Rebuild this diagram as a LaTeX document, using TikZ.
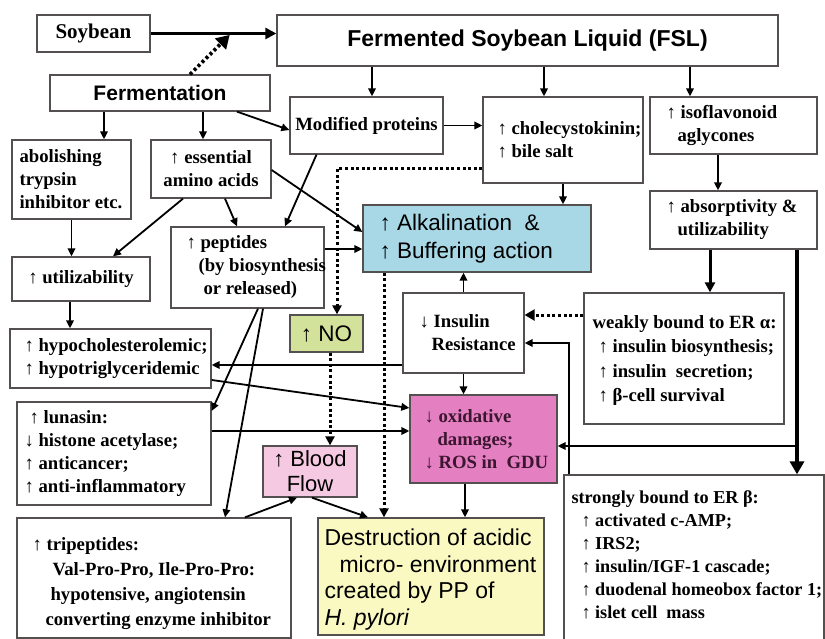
\documentclass[tikz,border=0pt]{standalone}
\usepackage{fontspec}
\setmainfont{Liberation Serif}
\newfontfamily\arialf{Liberation Sans}
\usetikzlibrary{arrows.meta,calc}
\definecolor{bordc}{HTML}{555050}
\definecolor{alkc}{HTML}{A8D8E6}
\definecolor{noc}{HTML}{D3E29A}
\definecolor{oxic}{HTML}{E47FC1}
\definecolor{oxit}{HTML}{3C1530}
\definecolor{bloodc}{HTML}{F6C9E2}
\definecolor{destc}{HTML}{FBF9C2}
\newcommand\mytf{\bfseries\fontsize{18.7}{23}\selectfont}
\begin{document}
\begin{tikzpicture}[x=1pt,y=-1pt,
  box/.style={draw=bordc,line width=1.3pt,fill=white,inner sep=0pt,font=\mytf,align=center},
  tx/.style={align=left,inner sep=0pt,font=\mytf,anchor=west},
  arr/.style={line width=1.8pt,-{Triangle[length=8pt,width=7.5pt]}},
  thk/.style={line width=3.4pt,-{Triangle[length=11pt,width=11pt]}},
  dotl/.style={line width=3pt,dash pattern=on 3pt off 2.6pt,-{Triangle[length=9pt,width=9pt]}}]
\fill[white] (0,0) rectangle (825,639);
\useasboundingbox (0,0) rectangle (825,639);
% boxes
\node[box,minimum width=113pt,minimum height=37pt,font=\bfseries\fontsize{21}{25}\selectfont] (soy) at (93.5,33.5) {Soybean};
\node[box,minimum width=501pt,minimum height=51pt,font=\arialf\bfseries\fontsize{23}{27}\selectfont] (fsl) at (527.5,40.5) {Fermented Soybean Liquid (FSL)};
\node[box,minimum width=220pt,minimum height=36pt,font=\arialf\bfseries\fontsize{21}{25}\selectfont] (ferm) at (160,93) {Fermentation};
\node[box,minimum width=153pt,minimum height=57pt] (mod) at (366.5,125.5) {Modified proteins};
\node[box,minimum width=160pt,minimum height=86pt] (chole) at (563,140) {};
\node[tx] at ([xshift=15pt]chole.west) {↑ cholecystokinin;\\↑ bile salt};
\node[box,minimum width=167pt,minimum height=57pt] (iso) at (733.5,125.5) {};
\node[tx] at ([xshift=17pt]iso.west) {↑ isoflavonoid\\\hspace*{11pt}aglycones};
\node[box,minimum width=167pt,minimum height=58pt] (absb) at (733.5,220) {};
\node[tx] at ([xshift=17pt]absb.west) {↑ absorptivity \&\\\hspace*{11pt}utilizability};
\node[box,minimum width=119pt,minimum height=79pt] (abol) at (71.5,179.5) {};
\node[tx] at ([xshift=8pt]abol.west) {abolishing\\trypsin\\inhibitor etc.};
\node[box,minimum width=120pt,minimum height=58pt] (ess) at (211,169) {↑ essential\\amino acids};
\node[box,minimum width=138pt,minimum height=44pt] (util) at (81,279) {↑ utilizability};
\node[box,minimum width=153pt,minimum height=81pt] (pep) at (247.5,267.5) {};
\node[tx] at ([xshift=16pt]pep.west) {↑ peptides\\\hspace*{12pt}(by biosynthesis\\\hspace*{17pt}or released)};
\node[box,fill=alkc,minimum width=228pt,minimum height=67pt] (alk) at (477,238.5) {};
\node[tx,font=\arialf\fontsize{22.5}{28}\selectfont] at ([xshift=17pt]alk.west) {↑ Alkalination \ \&\\↑ Buffering action};
\node[box,fill=noc,minimum width=73pt,minimum height=37pt,font=\arialf\fontsize{22.5}{25}\selectfont] (no) at (326.5,333.5) {↑ NO};
\node[box,minimum width=121pt,minimum height=80pt] (ir) at (463.5,333) {};
\node[tx] at ([xshift=17pt]ir.west) {↓ Insulin\\\hspace*{12pt}Resistance};
\node[box,minimum width=200pt,minimum height=131pt] (weak) at (684,358.5) {};
\node[tx,font=\bfseries\fontsize{18.7}{24.5}\selectfont] at ([xshift=9pt,yshift=-2pt]weak.west) {weakly bound to ER α:\\\hspace*{6pt}↑ insulin biosynthesis;\\\hspace*{6pt}↑ insulin \ secretion;\\\hspace*{6pt}↑ β-cell survival};
\node[box,minimum width=201pt,minimum height=59pt] (hypo) at (110.5,358.5) {};
\node[tx] at ([xshift=15pt]hypo.west) {↑ hypocholesterolemic;\\↑ hypotriglyceridemic};
\node[box,minimum width=194pt,minimum height=103pt] (luna) at (114,453.5) {};
\node[tx] at ([xshift=8pt]luna.west) {\hspace*{5pt}↑ lunasin:\\↓ histone acetylase;\\↑ anticancer;\\↑ anti-inflammatory};
\node[box,fill=bloodc,minimum width=94pt,minimum height=51pt,font=\arialf\fontsize{22}{25}\selectfont] (blood) at (310,471.5) {↑ Blood\\Flow};
\node[box,fill=oxic,minimum width=147pt,minimum height=88pt] (oxi) at (483.5,439) {};
\node[tx,text=oxit] at ([xshift=15pt]oxi.west) {↓ oxidative\\\hspace*{13pt}damages;\\↓ ROS in \ GDU};
\node[box,minimum width=274pt,minimum height=120pt] (tri) at (154,578) {};
\node[tx,font=\bfseries\fontsize{18.7}{25}\selectfont] at ([xshift=16pt,yshift=-6pt]tri.west) {↑ tripeptides:\\\hspace*{20pt}Val-Pro-Pro, Ile-Pro-Pro:\\\hspace*{18pt}hypotensive, angiotensin\\\hspace*{13pt}converting enzyme inhibitor};
\node[box,fill=destc,minimum width=226pt,minimum height=117pt] (dest) at (431,576.5) {};
\node[tx,font=\arialf\fontsize{23}{26.5}\selectfont] at ([xshift=7pt,yshift=-3pt]dest.west) {Destruction of acidic\\\hspace*{15pt}micro- environment\\created by PP of\\\textit{H. pylori}};
\node[box,minimum width=260pt,minimum height=170pt] (strong) at (694,560) {};
\node[tx,anchor=north west,font=\bfseries\fontsize{18.2}{23}\selectfont] at ([xshift=8pt,yshift=-16pt]strong.north west) {strongly bound to ER β:\\\hspace*{10pt}↑ activated c-AMP;\\\hspace*{10pt}↑ IRS2;\\\hspace*{10pt}↑ insulin/IGF-1 cascade;\\\hspace*{10pt}↑ duodenal homeobox factor 1;\\\hspace*{10pt}↑ islet cell \ mass};
% connectors
\draw[thk] (soy.east) -- (soy.east -| fsl.west);
\coordinate (sf) at ($(soy.east)!0.64!(soy.east -| fsl.west)$);
\draw[dotl,line width=3.6pt,-{Triangle[length=13pt,width=15pt]},shorten >=2pt] ([xshift=30pt]ferm.north) -- (sf);
\coordinate (m1) at ([xshift=5.5pt]mod.north);
\draw[arr] (fsl.south -| m1) -- (m1);
\coordinate (c1) at ([xshift=-19pt]chole.north);
\draw[arr] (fsl.south -| c1) -- (c1);
\coordinate (i1) at ([xshift=-43.5pt]iso.north);
\draw[arr] (fsl.south -| i1) -- (i1);
\coordinate (f1) at ([xshift=32.5pt]abol.north);
\draw[arr] (ferm.south -| f1) -- (f1);
\coordinate (f2) at ([xshift=-8pt]ess.north);
\draw[arr] (ferm.south -| f2) -- (f2);
\draw[arr] ([xshift=77pt]ferm.south) -- ([yshift=-4.5pt]mod.west);
\draw[arr] (mod.east) -- (mod.east -| chole.west);
\coordinate (i2) at ([xshift=-15.5pt]absb.north);
\draw[arr,line width=2.4pt] (iso.south -| i2) -- (i2);
\draw[arr] (chole.south) -- (chole.south |- alk.north);
\draw[arr] ([xshift=-28pt]ess.south) -- ([xshift=32pt]util.north);
\draw[arr] ([xshift=14pt]ess.south) -- ([xshift=-10.5pt]pep.north);
\draw[arr] ([yshift=-1pt]ess.east) -- ([yshift=6.5pt]alk.west);
\draw[arr] ([xshift=-50pt]mod.south) -- ([xshift=37.5pt]pep.north);
\coordinate (p1) at ([yshift=18.5pt]pep.east);
\draw[arr] (p1) -- (p1 -| alk.west);
\draw[arr] (abol.south) -- (abol.south |- util.north);
\coordinate (u1) at ([xshift=-11pt]util.south);
\draw[arr] (u1) -- (u1 |- hypo.north);
\coordinate (n1) at ([xshift=10.5pt]no.north);
\draw[dotl] ([yshift=-29pt]chole.west) -| (n1);
\coordinate (n2) at ([xshift=3.5pt]no.south);
\draw[dotl] (n2) -- (n2 |- blood.north);
\coordinate (a1) at ([xshift=-93pt]alk.south);
\draw[dotl] (a1) -- (a1 |- dest.north);
\coordinate (w1) at ([yshift=43.5pt]weak.west);
\draw[dotl,-{Triangle[length=10pt,width=11pt]}] (w1) -- (w1 -| ir.east);
\draw[arr] (ir.north) -- (ir.north |- alk.south);
\draw[arr] (ir.south) -- (ir.south |- oxi.north);
\coordinate (b1) at ([xshift=-23.5pt]absb.south);
\draw[thk,line width=3pt,-{Triangle[length=10pt,width=10pt]}] (b1) -- (b1 |- weak.north);
\coordinate (b2) at ([xshift=63.5pt]absb.south);
\draw[thk,line width=4pt,-{Triangle[length=13pt,width=14pt]}] (b2) -- (b2 |- strong.north);
\coordinate (o1) at ([yshift=-7pt]oxi.east);
\draw[arr] (b2 |- o1) -- (o1);
\coordinate (ir1) at ([yshift=-10pt]ir.east);
\draw[arr] ([xshift=6pt]strong.north west) |- (ir1);
\coordinate (ir2) at ([yshift=-32pt]ir.west);
\draw[arr] (ir2) -- (ir2 -| hypo.east);
\draw[arr] ([yshift=-21.5pt]hypo.east) -- ([yshift=31pt]oxi.west);
\coordinate (l1) at ([yshift=22.5pt]luna.east);
\draw[arr] (l1) -- (l1 -| oxi.west);
\draw[arr] ([xshift=10.5pt]pep.south) -- ([yshift=42.5pt]luna.east);
\draw[arr] ([xshift=15.5pt]pep.south) -- ([xshift=71pt]tri.north);
\draw[arr] ([xshift=91pt]tri.north) -- ([xshift=-13pt]blood.south);
\draw[arr] ([xshift=2pt]blood.south) -- ([xshift=-63pt]dest.north);
\coordinate (o2) at ([xshift=-18.5pt]oxi.south);
\draw[arr] (o2) -- (o2 |- dest.north);
\end{tikzpicture}
\end{document}
